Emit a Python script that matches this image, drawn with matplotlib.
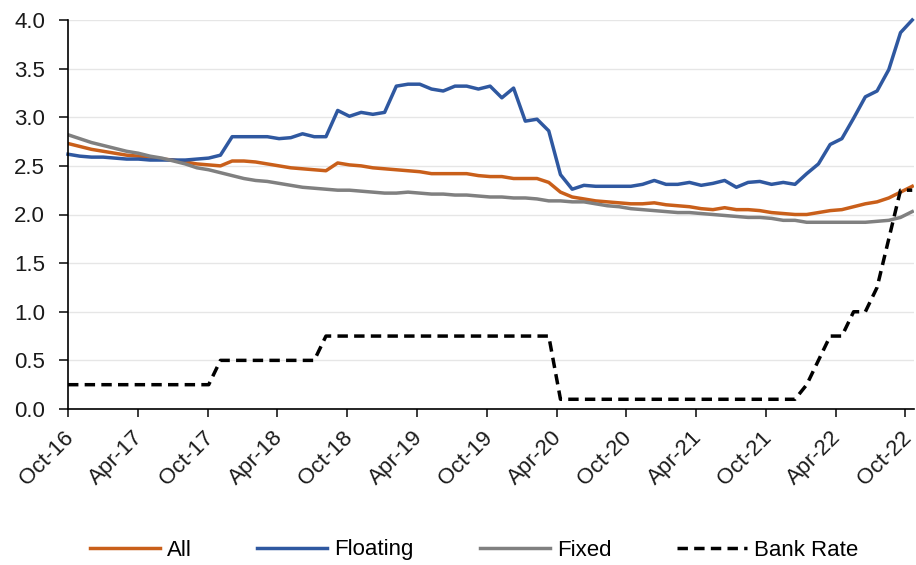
import numpy as np
import matplotlib
matplotlib.use("Agg")
import matplotlib.pyplot as plt
import matplotlib.transforms as mtransforms

plt.rcParams["font.family"] = ["Liberation Sans", "DejaVu Sans"]

# monthly series, Oct-16 .. Oct-22
tick_labels = ["Oct-16", "Apr-17", "Oct-17", "Apr-18", "Oct-18", "Apr-19", "Oct-19",
               "Apr-20", "Oct-20", "Apr-21", "Oct-21", "Apr-22", "Oct-22"]

all_rates = [2.73, 2.70, 2.67, 2.65, 2.63, 2.61, 2.60, 2.59, 2.57, 2.56, 2.54, 2.52, 2.51,
             2.50, 2.55, 2.55, 2.54, 2.52, 2.50, 2.48, 2.47, 2.46, 2.45, 2.53, 2.51, 2.50,
             2.48, 2.47, 2.46, 2.45, 2.44, 2.42, 2.42, 2.42, 2.42, 2.40, 2.39, 2.39, 2.37,
             2.37, 2.37, 2.33, 2.23, 2.18, 2.16, 2.14, 2.13, 2.12, 2.11, 2.11, 2.12, 2.10,
             2.09, 2.08, 2.06, 2.05, 2.07, 2.05, 2.05, 2.04, 2.02, 2.01, 2.00, 2.00, 2.02,
             2.04, 2.05, 2.08, 2.11, 2.13, 2.17, 2.23, 2.29]

floating = [2.62, 2.60, 2.59, 2.59, 2.58, 2.57, 2.57, 2.56, 2.56, 2.56, 2.56, 2.57, 2.58,
            2.61, 2.80, 2.80, 2.80, 2.80, 2.78, 2.79, 2.83, 2.80, 2.80, 3.07, 3.01, 3.05,
            3.03, 3.05, 3.32, 3.34, 3.34, 3.29, 3.27, 3.32, 3.32, 3.29, 3.32, 3.20, 3.30,
            2.96, 2.98, 2.86, 2.41, 2.26, 2.30, 2.29, 2.29, 2.29, 2.29, 2.31, 2.35, 2.31,
            2.31, 2.33, 2.30, 2.32, 2.35, 2.28, 2.33, 2.34, 2.31, 2.33, 2.31, 2.42, 2.52,
            2.72, 2.78, 2.99, 3.21, 3.27, 3.49, 3.87, 4.00]

fixed = [2.82, 2.78, 2.74, 2.71, 2.68, 2.65, 2.63, 2.60, 2.58, 2.55, 2.52, 2.48, 2.46,
         2.43, 2.40, 2.37, 2.35, 2.34, 2.32, 2.30, 2.28, 2.27, 2.26, 2.25, 2.25, 2.24,
         2.23, 2.22, 2.22, 2.23, 2.22, 2.21, 2.21, 2.20, 2.20, 2.19, 2.18, 2.18, 2.17,
         2.17, 2.16, 2.14, 2.14, 2.13, 2.13, 2.11, 2.09, 2.08, 2.06, 2.05, 2.04, 2.03,
         2.02, 2.02, 2.01, 2.00, 1.99, 1.98, 1.97, 1.97, 1.96, 1.94, 1.94, 1.92, 1.92,
         1.92, 1.92, 1.92, 1.92, 1.93, 1.94, 1.97, 2.03]

bank_rate = [0.25] * 13 + [0.5] * 9 + [0.75] * 20 + [0.1] * 21 + \
            [0.25, 0.5, 0.75, 0.75, 1.0, 1.0, 1.25, 1.75, 2.25, 2.25]

months = np.arange(len(all_rates))

fig = plt.figure(figsize=(9.16, 5.65), dpi=100)
ax = fig.add_axes([68 / 916, 1 - 409 / 565, 846 / 916, 389 / 565])

lw = 2.5
ax.plot(months, all_rates, color="#C95F1A", lw=lw, label="All")
ax.plot(months, floating, color="#2F58A0", lw=lw, label="Floating", clip_on=False)
ax.plot(months, fixed, color="#808080", lw=lw, label="Fixed")
ax.plot(months, bank_rate, color="black", lw=lw, linestyle=(0, (3.0, 1.8)), label="Bank Rate")

ax.set_xlim(0, 72.15)
ax.set_ylim(0, 4.0)
ax.set_yticks(np.arange(0, 4.01, 0.5))
ax.set_yticklabels([f"{v:.1f}" for v in np.arange(0, 4.01, 0.5)])
# source axis puts its half-year ticks a touch tighter than the monthly points
ax.set_xticks(np.arange(13) * 5.952)
ax.set_xticklabels(tick_labels)

ax.grid(axis="y", color="#E6E6E6", lw=1)
ax.set_axisbelow(True)
for side in ["top", "right"]:
    ax.spines[side].set_visible(False)
for side in ["left", "bottom"]:
    ax.spines[side].set_linewidth(1.2)

ax.tick_params(axis="y", length=6.5, width=1.2, pad=10, labelsize=16, colors="#1a1a1a")
ax.tick_params(axis="x", length=6, width=1.2, pad=7, labelsize=16, colors="#1a1a1a")

offset = mtransforms.ScaledTranslation(-5 / 100, 0, fig.dpi_scale_trans)
for lab in ax.get_xticklabels():
    lab.set_rotation(45)
    lab.set_ha("right")
    lab.set_va("top")
    lab.set_rotation_mode("anchor")
    lab.set_transform(lab.get_transform() + offset)

fig.legend(loc="center", bbox_to_anchor=(474 / 916, 1 - 550 / 565), ncol=4, frameon=False,
           fontsize=16, handlelength=3.15, handletextpad=0.32, columnspacing=2.95)

fig.savefig("out.png", dpi=100)
